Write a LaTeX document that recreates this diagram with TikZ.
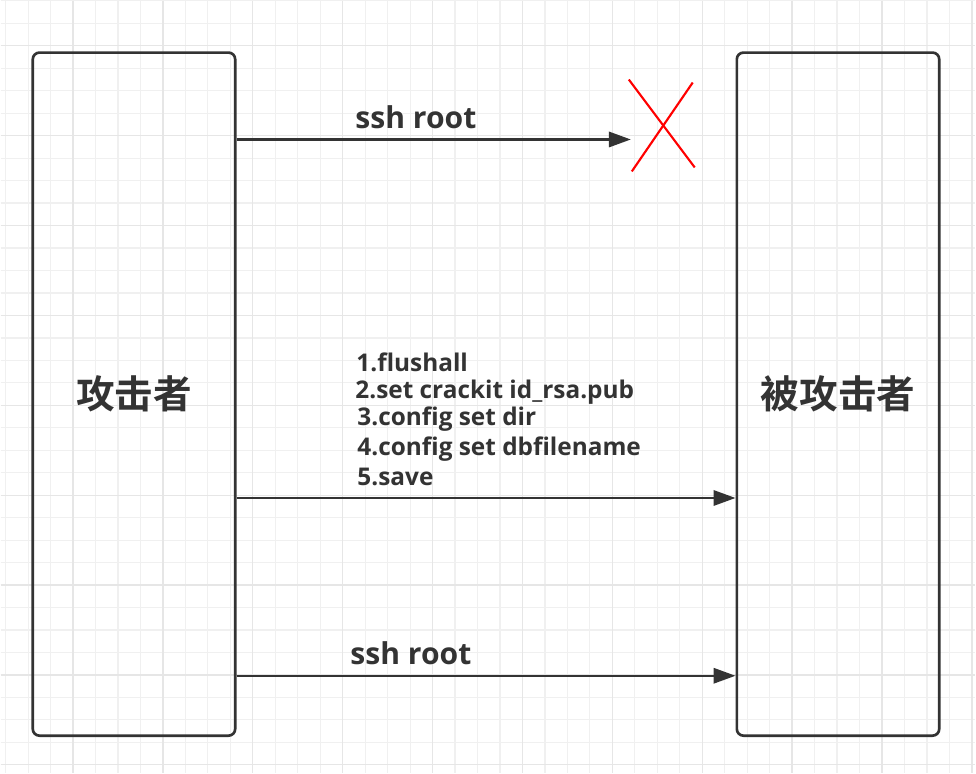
\documentclass[tikz,border=0pt]{standalone}
\usepackage{fontspec}
\setmainfont{Open Sans}[BoldFont={Open Sans Bold}]
\newfontfamily\cjkfont{Noto Sans CJK SC}[BoldFont={* Bold}]
\usepackage{tikz}
\usetikzlibrary{arrows.meta, positioning}

\definecolor{inkgray}{HTML}{333333}
\definecolor{gridminor}{HTML}{F0F0F0}
\definecolor{gridmajor}{HTML}{E6E6E6}

\begin{document}
\begin{tikzpicture}[
        x=0.75pt, y=-0.75pt,
        party/.style={draw=inkgray, line width=2pt, rounded corners=5pt, rectangle,
            minimum width=152pt, minimum height=513pt, inner sep=0pt,
            font=\cjkfont\bfseries\fontsize{29}{31}\selectfont, text=inkgray},
        arrow/.style={-{Triangle[length=16.5pt, width=11.5pt]}, draw=inkgray, line width=1.8pt},
        cmd/.style={anchor=base west, inner sep=0pt, text=inkgray,
            font=\bfseries\fontsize{18.3}{22}\selectfont},
        bigcmd/.style={cmd, font=\bfseries\fontsize{22.6}{26}\selectfont},
        cross/.style={draw=red, line width=1.6pt}
    ]
        % Background and grid
        \fill[white] (0,0) rectangle (976,773);
        \foreach \k in {0,...,43} {
            \pgfmathsetmacro{\gx}{5+22.5*\k}
            \draw[gridminor, line width=0.9pt] (\gx,0) -- (\gx,773);
        }
        \foreach \k in {0,...,34} {
            \pgfmathsetmacro{\gy}{0.2+22.5*\k}
            \draw[gridminor, line width=0.9pt] (0,\gy) -- (976,\gy);
        }
        \foreach \k in {3,7,...,43} {
            \pgfmathsetmacro{\gx}{5+22.5*\k}
            \draw[gridmajor, line width=1pt] (\gx,0) -- (\gx,773);
        }
        \foreach \k in {2,6,...,34} {
            \pgfmathsetmacro{\gy}{0.2+22.5*\k}
            \draw[gridmajor, line width=1pt] (0,\gy) -- (976,\gy);
        }
        \useasboundingbox (0,0) rectangle (976,773);

        % Nodes
        \node[party] (attacker) at (133.5,394) {攻击者};
        \node[party] (victim) at (838.5,394) {被攻击者};
        \coordinate (blocked) at (631,139);
        \coordinate (sendcmds) at (0,498);
        \coordinate (login) at (0,676);

        % Arrows and Labels
        \draw[arrow] (attacker.east |- blocked) -- (blocked);
        \node[bigcmd] (sshfail) at (355,128.3) {ssh root};
        \draw[cross] (629,79) -- (695,167);
        \draw[cross] (693,82) -- (632,171);

        \draw[arrow] (attacker.east |- sendcmds) -- (victim.west |- sendcmds);
        \node[cmd] (step1) at (356,371.5) {1.flushall};
        \node[cmd] (step2) at (355,398) {2.set crackit id\_rsa.pub};
        \node[cmd] (step3) at (357,425.5) {3.config set dir};
        \node[cmd] (step4) at (357,455) {4.config set dbfilename};
        \node[cmd] (step5) at (357,485.5) {5.save};

        \draw[arrow] (attacker.east |- login) -- (victim.west |- login);
        \node[bigcmd] (sshok) at (350,665) {ssh root};
    \end{tikzpicture}
\end{document}
